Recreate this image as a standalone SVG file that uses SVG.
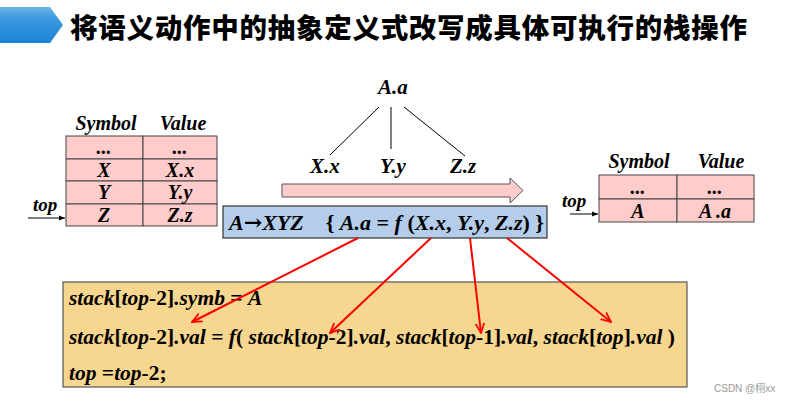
<svg xmlns="http://www.w3.org/2000/svg" width="790" height="403" viewBox="0 0 790 403">
<defs>
<linearGradient id="bannerG" x1="0" y1="0" x2="0" y2="1">
<stop offset="0" stop-color="#6fb5e6"/>
<stop offset="0.3" stop-color="#3d9be0"/>
<stop offset="1" stop-color="#1a82d6"/>
</linearGradient>
<marker id="redHead" viewBox="0 0 10 10" refX="9" refY="5" markerWidth="11" markerHeight="11" markerUnits="userSpaceOnUse" orient="auto">
<path d="M0,1 L9,5 L0,9" fill="none" stroke="#ff0000" stroke-width="1.6"/>
</marker>
<marker id="blackHead" viewBox="0 0 10 10" refX="10" refY="5" markerWidth="6" markerHeight="6" markerUnits="userSpaceOnUse" orient="auto">
<path d="M0,1 L10,5 L0,9 z" fill="#000"/>
</marker>
</defs>
<style>
.t{font-family:"Liberation Serif","Times New Roman",serif;font-weight:bold;font-style:italic;fill:#000}
.n{font-style:normal}
.arr{font-family:"DejaVu Serif",serif;font-style:normal;font-weight:bold}
.cell{fill:#ffcccc;stroke:#444;stroke-width:1}
.tree{stroke:#000;stroke-width:1;fill:none}
.red{stroke:#ff0000;stroke-width:2;fill:none;marker-end:url(#redHead)}
.ptr{stroke:#000;stroke-width:1;marker-end:url(#blackHead)}
</style>
<rect width="790" height="403" fill="#fff"/>
<g id="title">
<path d="M0,7 L50,7 L63,25 L50,43 L0,43 z" fill="url(#bannerG)"/>
<text x="70" y="38" font-family="'Noto Sans CJK SC',sans-serif" font-weight="900" font-size="27.5" fill="#000" textLength="677" lengthAdjust="spacing">将语义动作中的抽象定义式改写成具体可执行的栈操作</text>
</g>
<g id="left-stack">
<text class="t" x="106" y="130" font-size="20" text-anchor="middle">Symbol</text>
<text class="t" x="183" y="130" font-size="20" text-anchor="middle">Value</text>
<rect class="cell" x="66" y="136" width="77" height="23"/>
<rect class="cell" x="143" y="136" width="74" height="23"/>
<rect class="cell" x="66" y="159" width="77" height="22"/>
<rect class="cell" x="143" y="159" width="74" height="22"/>
<rect class="cell" x="66" y="181" width="77" height="23"/>
<rect class="cell" x="143" y="181" width="74" height="23"/>
<rect class="cell" x="66" y="204" width="77" height="22"/>
<rect class="cell" x="143" y="204" width="74" height="22"/>
<text class="t" x="104" y="154" font-size="20" text-anchor="middle">...</text>
<text class="t" x="180" y="154" font-size="20" text-anchor="middle">...</text>
<text class="t" x="104" y="177" font-size="20" text-anchor="middle">X</text>
<text class="t" x="180" y="177" font-size="20" text-anchor="middle">X.x</text>
<text class="t" x="104" y="199" font-size="20" text-anchor="middle">Y</text>
<text class="t" x="180" y="199" font-size="20" text-anchor="middle">Y.y</text>
<text class="t" x="104" y="222" font-size="20" text-anchor="middle">Z</text>
<text class="t" x="180" y="222" font-size="20" text-anchor="middle">Z.z</text>
<text class="t" x="33" y="211" font-size="19">top</text>
</g>
<g id="tree">
<text class="t" x="393" y="94" font-size="21" text-anchor="middle">A.a</text>
<text class="t" x="325" y="173" font-size="21" text-anchor="middle">X.x</text>
<text class="t" x="393" y="173" font-size="21" text-anchor="middle">Y.y</text>
<text class="t" x="463" y="173" font-size="21" text-anchor="middle">Z.z</text>
</g>
<g id="flow-arrow">
<path d="M282,184 L510,184 L510,178 L523,190.5 L510,203 L510,197 L282,197 z" fill="#ffcccc" stroke="#555" stroke-width="1"/>
</g>
<g id="production">
<rect x="223" y="206" width="324" height="32" fill="#b4cdeb" stroke="#333" stroke-width="1.2"/>
<text class="t" x="229" y="230" font-size="22">A<tspan class="arr" font-size="22">→</tspan>XYZ<tspan class="n" xml:space="preserve">    { </tspan>A.a<tspan class="n"> = </tspan>f<tspan class="n"> (</tspan>X.x<tspan class="n">, </tspan>Y.y<tspan class="n">, </tspan>Z.z<tspan class="n">) }</tspan></text>
</g>
<g id="right-stack">
<text class="t" x="639" y="168" font-size="20" text-anchor="middle">Symbol</text>
<text class="t" x="721" y="168" font-size="20" text-anchor="middle">Value</text>
<rect class="cell" x="599" y="175" width="78" height="24"/>
<rect class="cell" x="677" y="175" width="77" height="24"/>
<rect class="cell" x="599" y="199" width="78" height="23"/>
<rect class="cell" x="677" y="199" width="77" height="23"/>
<text class="t" x="638" y="194" font-size="20" text-anchor="middle">...</text>
<text class="t" x="715" y="194" font-size="20" text-anchor="middle">...</text>
<text class="t" x="638" y="218" font-size="20" text-anchor="middle">A</text>
<text class="t" x="715" y="218" font-size="20" text-anchor="middle">A .a</text>
<text class="t" x="562" y="207" font-size="19">top</text>
</g>
<g id="code">
<rect x="63" y="282" width="624" height="105" fill="#f7d68f" stroke="#555" stroke-width="1.2"/>
<text class="t" x="69" y="305" font-size="21.5">stack<tspan class="n">[</tspan>top<tspan class="n">-2]</tspan>.symb<tspan class="n"> = </tspan>A</text>
<text class="t" x="69" y="344" font-size="21.5">stack<tspan class="n">[</tspan>top<tspan class="n">-2]</tspan>.val<tspan class="n"> = </tspan>f<tspan class="n">( </tspan>stack<tspan class="n">[</tspan>top<tspan class="n">-2]</tspan>.val<tspan class="n">, </tspan>stack<tspan class="n">[</tspan>top<tspan class="n">-1]</tspan>.val<tspan class="n">, </tspan>stack<tspan class="n">[</tspan>top<tspan class="n">]</tspan>.val<tspan class="n"> )</tspan></text>
<text class="t" x="69" y="380" font-size="21.5">top<tspan class="n"> =</tspan>top<tspan class="n">-2;</tspan></text>
</g>
<g id="connectors">
<line class="tree" x1="379" y1="107" x2="330" y2="155"/>
<line class="tree" x1="391" y1="107" x2="391" y2="149"/>
<line class="tree" x1="404" y1="107" x2="465" y2="156"/>
<line class="ptr" x1="28" y1="218" x2="65" y2="218"/>
<line class="ptr" x1="570" y1="214" x2="598" y2="214"/>
<line class="red" x1="358" y1="238" x2="192" y2="322"/>
<line class="red" x1="431" y1="238" x2="330" y2="333"/>
<line class="red" x1="470" y1="238" x2="481" y2="333"/>
<line class="red" x1="507" y1="238" x2="611" y2="322"/>
</g>
<text x="714" y="392" font-family="'Liberation Sans','Noto Sans CJK SC',sans-serif" font-size="10" fill="#999">CSDN @栩xx</text>
</svg>
